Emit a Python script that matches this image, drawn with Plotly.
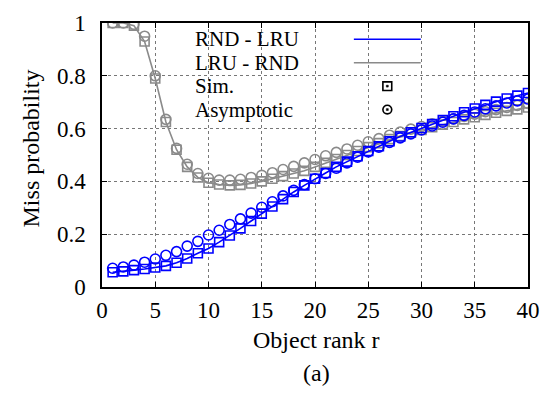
import plotly.graph_objects as go

ranks = list(range(1, 41))

rnd_lru_sim = [0.056, 0.059, 0.064, 0.068, 0.074, 0.080, 0.092, 0.108, 0.128, 0.146,
               0.170, 0.195, 0.222, 0.250, 0.278, 0.305, 0.333, 0.360, 0.385, 0.410,
               0.432, 0.455, 0.475, 0.495, 0.515, 0.533, 0.552, 0.570, 0.586, 0.602,
               0.617, 0.632, 0.647, 0.662, 0.676, 0.690, 0.702, 0.714, 0.725, 0.735]
rnd_lru_asym = [0.071, 0.076, 0.083, 0.094, 0.106, 0.120, 0.134, 0.155, 0.173, 0.197,
                0.215, 0.237, 0.258, 0.280, 0.302, 0.323, 0.345, 0.366, 0.388, 0.410,
                0.430, 0.450, 0.470, 0.492, 0.512, 0.530, 0.548, 0.565, 0.580, 0.595,
                0.610, 0.624, 0.637, 0.650, 0.663, 0.675, 0.686, 0.697, 0.705, 0.712]
lru_rnd_sim = [1.000, 1.000, 0.990, 0.930, 0.790, 0.625, 0.520, 0.455, 0.415, 0.395,
               0.388, 0.385, 0.387, 0.392, 0.400, 0.410, 0.420, 0.430, 0.440, 0.455,
               0.470, 0.485, 0.500, 0.515, 0.530, 0.545, 0.560, 0.572, 0.585, 0.595,
               0.605, 0.615, 0.625, 0.635, 0.643, 0.652, 0.660, 0.667, 0.673, 0.680]
lru_rnd_asym = [1.000, 1.000, 0.995, 0.950, 0.800, 0.635, 0.525, 0.465, 0.430, 0.412,
                0.405, 0.405, 0.408, 0.415, 0.423, 0.433, 0.445, 0.457, 0.470, 0.483,
                0.497, 0.510, 0.523, 0.537, 0.550, 0.562, 0.575, 0.587, 0.598, 0.608,
                0.618, 0.628, 0.637, 0.646, 0.655, 0.664, 0.672, 0.680, 0.688, 0.695]

x_ticks = [0, 5, 10, 15, 20, 25, 30, 35, 40]
y_ticks = [0, 0.2, 0.4, 0.6, 0.8, 1]
y_tick_labels = ["0", "0.2", "0.4", "0.6", "0.8", "1"]

legend_labels = ["RND - LRU", "LRU - RND", "Sim.", "Asymptotic"]

BLUE = "#0000ff"
GRAY = "#8a8a8a"
FONT = "Liberation Serif, DejaVu Serif, Times New Roman, serif"
FS = 23

# plot area in pixels
L, R, T, B = 102, 535, 11, 287
W, H = R - L, B - T

def px(xp):
    return (xp - L) / W

def py(yp):
    return (B - yp) / H

fig = go.Figure()

def add_series(sim, asym, color):
    fig.add_trace(go.Scatter(x=ranks, y=sim, mode="lines", line=dict(color=color, width=1.6),
                             showlegend=False, hoverinfo="skip"))
    fig.add_trace(go.Scatter(x=ranks, y=sim, mode="markers",
                             marker=dict(symbol="square-open", size=9, color=color,
                                         line=dict(color=color, width=1.6)),
                             showlegend=False))
    fig.add_trace(go.Scatter(x=ranks, y=asym, mode="markers",
                             marker=dict(symbol="circle-open", size=10, color=color,
                                         line=dict(color=color, width=1.6)),
                             showlegend=False))

add_series(lru_rnd_sim, lru_rnd_asym, GRAY)
add_series(rnd_lru_sim, rnd_lru_asym, BLUE)

axis_common = dict(
    showline=True, linecolor="black", linewidth=1.5, mirror="ticks",
    ticks="inside", ticklen=5, tickcolor="black", tickwidth=1,
    showgrid=True, gridcolor="#777777", griddash="dot", gridwidth=1,
    zeroline=False, tickfont=dict(family=FONT, size=FS, color="black"),
)

fig.update_xaxes(range=[0, 40], tickvals=x_ticks, ticklabelstandoff=2, **axis_common)
fig.update_yaxes(range=[0, 1], tickvals=y_ticks, ticktext=y_tick_labels,
                 ticklabelstandoff=10, **axis_common)

# legend box (covers gridlines)
fig.add_shape(type="rect", xref="paper", yref="paper", x0=px(193), x1=px(442), y0=py(116), y1=py(12),
              fillcolor="white", line=dict(width=0), layer="between")

# legend entries
leg_y_px = [28, 52.5, 77, 101.5]
for lab, ypx in zip(legend_labels, leg_y_px):
    fig.add_annotation(text=lab, xref="paper", yref="paper", x=px(196), y=py(ypx),
                       xanchor="left", yanchor="middle", showarrow=False, borderpad=0,
                       font=dict(family=FONT, size=21, color="black"))

# legend line samples
for ypx, col in zip(leg_y_px[:2], [BLUE, GRAY]):
    fig.add_shape(type="line", xref="paper", yref="paper", x0=px(358), x1=px(426),
                  y0=py(ypx), y1=py(ypx), line=dict(color=col, width=1.6))

# legend symbol samples (square with dot, circle with dot)
cx = 392
for ypx, kind in zip(leg_y_px[2:], ["rect", "circle"]):
    h = 4.5
    fig.add_shape(type=kind, xref="paper", yref="paper",
                  x0=px(cx - h), x1=px(cx + h), y0=py(ypx + h), y1=py(ypx - h),
                  line=dict(color="black", width=1.6), fillcolor="rgba(0,0,0,0)")
    d = 1.0
    fig.add_shape(type="rect", xref="paper", yref="paper",
                  x0=px(cx - d), x1=px(cx + d), y0=py(ypx + d), y1=py(ypx - d),
                  line=dict(color="black", width=0.5), fillcolor="black")

# axis titles
fig.add_annotation(text="Object rank r", xref="paper", yref="paper", x=px(320), y=py(342),
                   xanchor="center", yanchor="middle", showarrow=False,
                   font=dict(family=FONT, size=FS + 1, color="black"))
fig.add_annotation(text="(a)", xref="paper", yref="paper", x=px(320), y=py(377),
                   xanchor="center", yanchor="middle", showarrow=False,
                   font=dict(family=FONT, size=FS + 1, color="black"))
fig.add_annotation(text="Miss probability", xref="paper", yref="paper", x=px(30), y=py(142),
                   xanchor="center", yanchor="middle", showarrow=False, textangle=-90,
                   font=dict(family=FONT, size=FS + 1, color="black"))

fig.update_layout(
    width=551, height=400,
    margin=dict(l=L, r=551 - R, t=T, b=400 - B),
    plot_bgcolor="white", paper_bgcolor="white",
    showlegend=False,
    font=dict(family=FONT, size=FS, color="black"),
)

fig.write_html("out.html", config={"displayModeBar": False},
               post_script="document.body.style.margin='0';")
